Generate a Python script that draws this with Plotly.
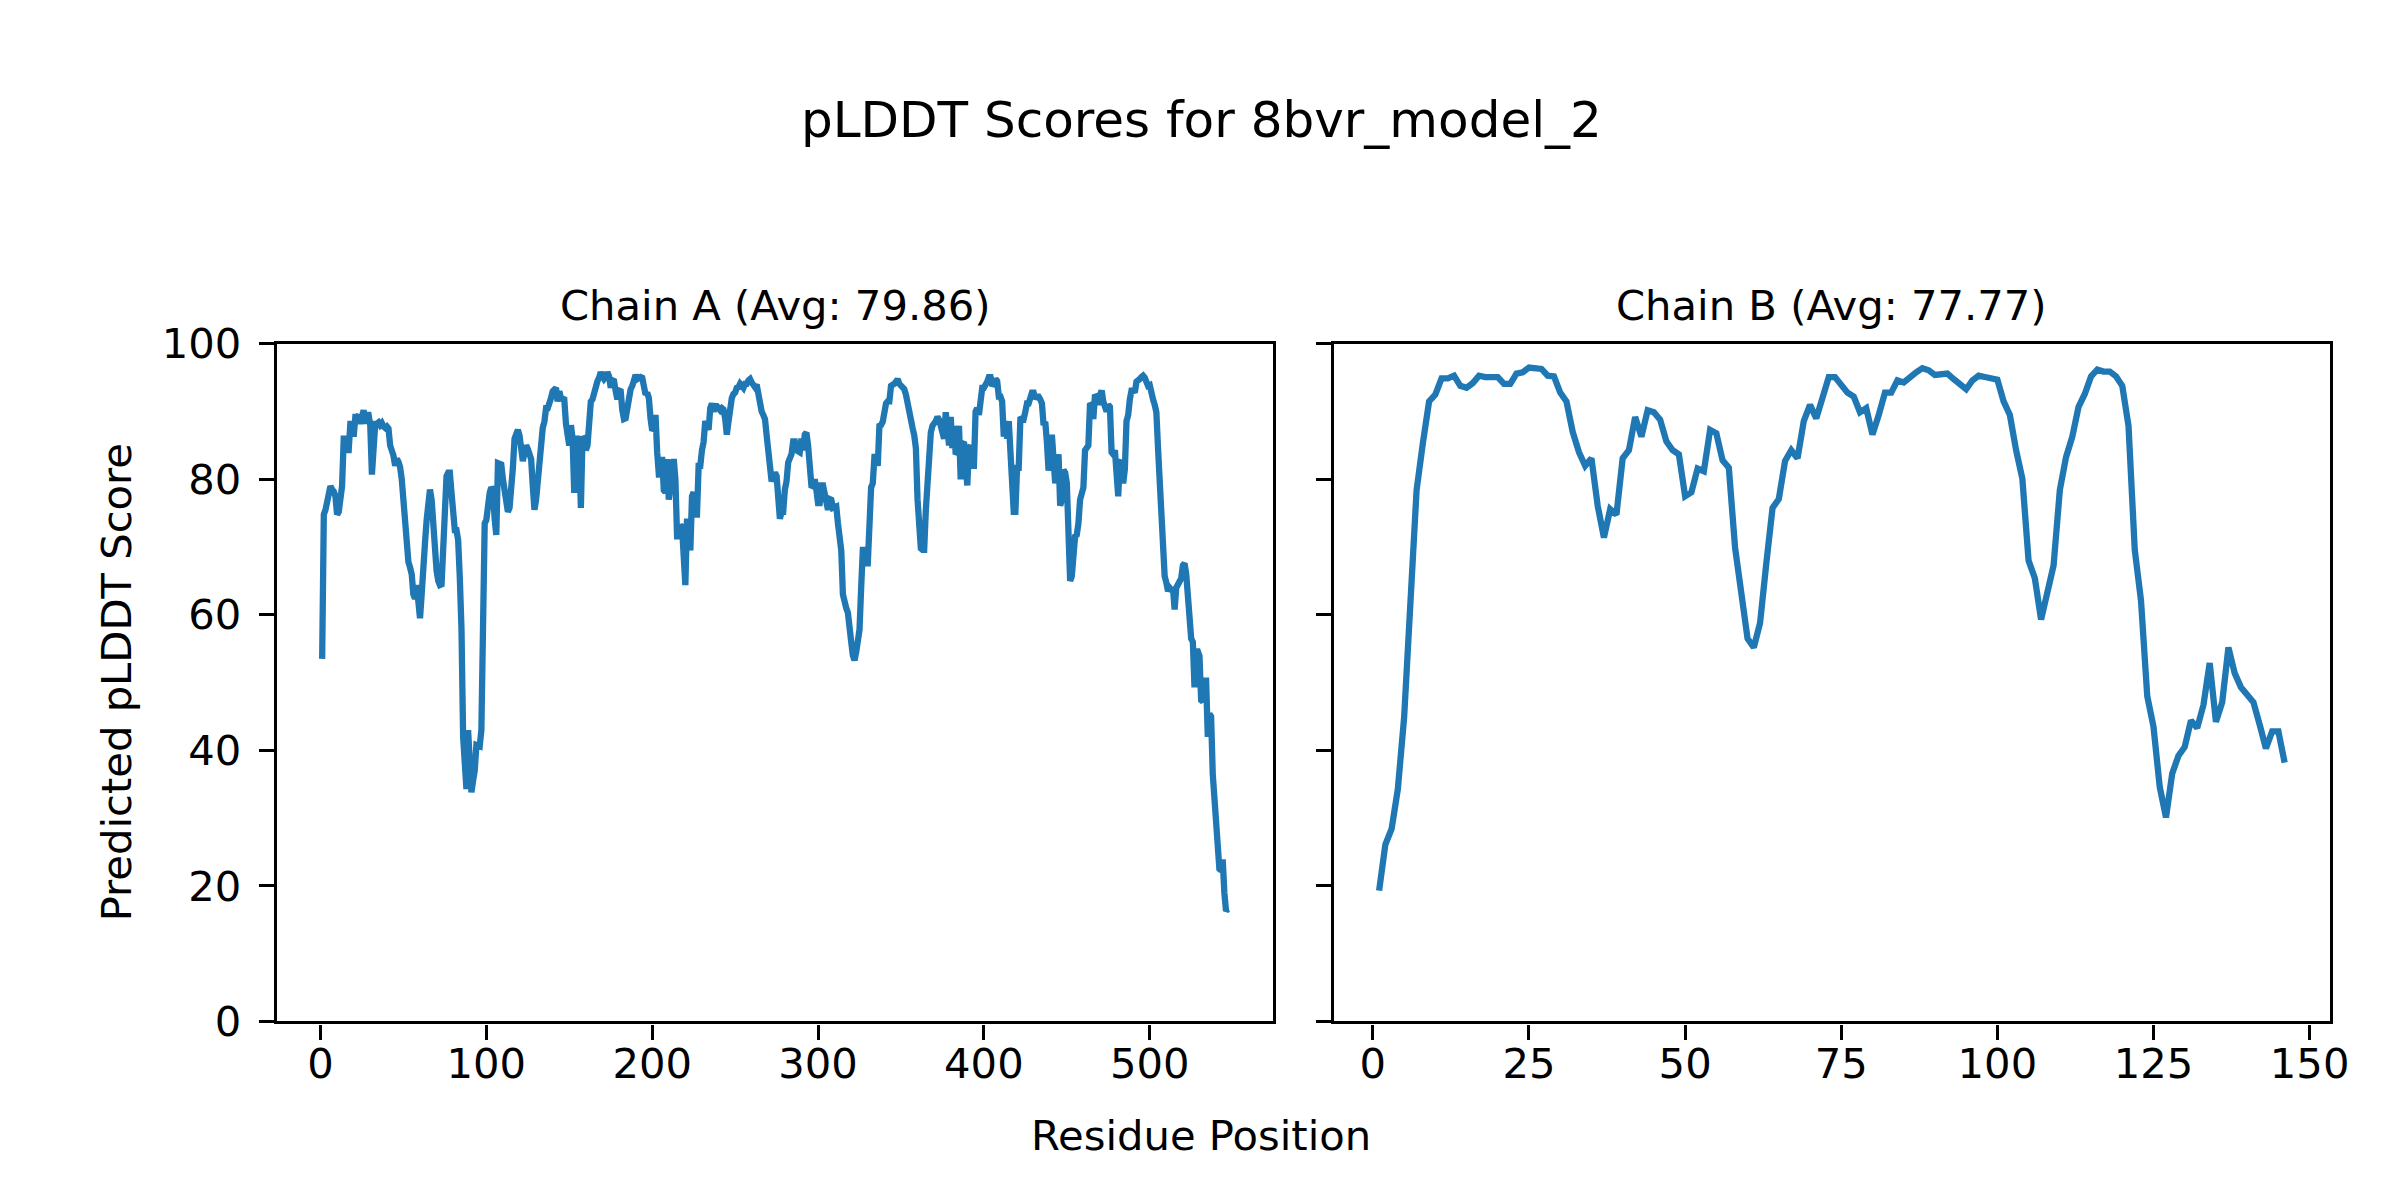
import plotly.graph_objects as go

title_text = "pLDDT Scores for 8bvr_model_2"
chain_titles = ["Chain A (Avg: 79.86)", "Chain B (Avg: 77.77)"]
x_label = "Residue Position"
y_label = "Predicted pLDDT Score"

chain_a_scores = [
    53.5, 74.8, 75.5, 77.0, 78.8, 79.0, 78.5, 78.2, 77.5, 74.8,
    75.2, 76.5, 79.0, 86.0, 86.0, 84.3, 84.3, 88.2, 88.2, 86.3,
    89.2, 89.2, 89.5, 88.2, 89.5, 90.2, 88.2, 89.5, 89.5, 88.0,
    80.7, 84.6, 88.2, 88.2, 88.4, 88.0, 88.3, 87.8, 87.6, 87.8,
    87.5, 85.0, 84.3, 83.5, 82.0, 83.0, 82.6, 81.8, 80.0, 77.0,
    72.0, 70.0, 67.8, 67.0, 66.0, 63.0, 62.4, 64.4, 62.0, 59.5,
    63.0, 70.0, 70.6, 74.0, 78.0, 78.5, 77.0, 73.0, 69.5, 66.5,
    65.0, 64.4, 64.5, 71.0, 79.0, 80.5, 81.0, 81.0, 78.0, 73.0,
    72.5, 72.5, 71.0, 65.5, 58.0, 42.0, 35.0, 34.3, 43.0, 34.5,
    33.8, 35.5, 37.0, 40.8, 40.8, 40.6, 43.0, 56.0, 73.5, 74.0,
    77.5, 78.0, 78.8, 78.5, 74.2, 71.8, 82.4, 82.4, 82.2, 80.0,
    78.0, 75.5, 75.2, 75.8, 81.0, 81.7, 86.0, 87.0, 87.3, 86.5,
    83.5, 82.7, 84.0, 85.0, 84.5, 84.0, 83.0, 79.0, 75.5, 77.0,
    80.0, 83.0, 86.0, 87.6, 88.5, 90.5, 90.5, 91.0, 92.0, 93.0,
    93.2, 93.5, 91.5, 93.0, 92.0, 91.8, 91.8, 88.2, 85.3, 85.0,
    88.0, 86.0, 78.0, 86.0, 86.0, 84.6, 75.8, 86.3, 86.0, 84.3,
    85.0, 90.0, 91.5, 91.8, 93.0, 94.0, 94.5, 95.0, 95.8, 95.2,
    94.8, 95.1, 95.8, 95.2, 93.5, 94.6, 94.5, 93.0, 91.8, 93.1,
    93.0, 90.2, 88.9, 89.0, 90.5, 93.0, 93.3, 93.8, 94.5, 95.4,
    94.8, 95.1, 95.1, 95.0, 93.5, 92.5, 92.8, 92.0, 89.0, 87.2,
    87.5, 89.5, 84.0, 80.7, 80.7, 83.3, 78.4, 78.1, 83.0, 77.0,
    79.0, 82.7, 83.0, 80.0, 71.6, 71.6, 73.2, 73.0, 68.0, 64.4,
    74.2, 72.0, 69.5, 77.5, 78.1, 74.8, 74.8, 82.0, 82.0, 84.3,
    85.5, 88.6, 87.5, 87.3, 90.5, 91.2, 90.0, 90.8, 90.8, 90.5,
    90.2, 90.5, 90.3, 89.0, 86.6, 88.5, 90.8, 92.0, 92.6, 92.8,
    93.5, 93.6, 94.1, 93.8, 93.5, 94.1, 94.1, 94.6, 94.8, 94.3,
    93.8, 93.6, 94.0, 92.5, 90.8, 90.0, 89.5, 88.9, 86.5, 83.3,
    80.7, 79.7, 80.3, 81.0, 80.5, 77.0, 74.2, 75.2, 75.2, 78.5,
    79.7, 82.5, 83.3, 83.7, 85.6, 85.6, 84.3, 84.0, 84.0, 86.0,
    84.3, 86.6, 86.9, 85.0, 82.7, 79.1, 79.0, 80.0, 78.4, 76.5,
    76.5, 79.1, 79.1, 77.8, 77.7, 75.5, 77.1, 77.0, 75.8, 76.0,
    76.0, 73.5, 71.5, 69.5, 63.0, 61.3, 61.0, 60.3, 57.0, 56.0,
    54.0, 53.3, 54.5, 57.0, 57.8, 64.0, 69.6, 69.6, 67.6, 67.6,
    74.2, 78.8, 79.4, 83.3, 83.3, 82.0, 87.9, 88.0, 88.5, 90.8,
    91.2, 91.5, 91.5, 93.8, 93.9, 94.1, 94.4, 94.8, 94.1, 93.8,
    93.5, 93.3, 92.5, 91.5, 90.2, 88.9, 87.6, 86.5, 84.6, 77.0,
    72.0, 69.8, 69.6, 69.6, 75.5, 80.7, 84.6, 86.9, 87.9, 88.2,
    88.6, 89.2, 88.8, 87.9, 86.6, 86.0, 89.9, 86.0, 85.0, 89.2,
    84.6, 87.9, 83.7, 84.0, 87.9, 80.0, 85.3, 85.5, 80.4, 79.1,
    84.6, 85.0, 82.0, 82.0, 90.0, 90.5, 89.5, 93.1, 93.5, 93.5,
    93.8, 94.4, 95.1, 95.1, 93.8, 94.1, 94.8, 94.5, 92.2, 92.2,
    91.5, 86.3, 88.6, 86.0, 88.6, 84.6, 78.8, 75.2, 75.2, 81.7,
    81.7, 88.9, 89.0, 88.9, 90.0, 91.2, 91.2, 92.3, 92.8, 92.8,
    91.9, 92.2, 92.2, 91.8, 91.2, 88.0, 88.5, 85.5, 81.3, 83.0,
    86.6, 83.0, 79.4, 82.0, 83.7, 76.1, 77.0, 81.4, 81.0, 79.5,
    67.0, 65.0, 65.7, 70.5, 71.6, 71.8, 73.5, 77.0, 77.6, 78.8,
    84.3, 85.0, 85.0, 91.2, 91.0, 88.9, 92.5, 92.2, 91.0, 92.5,
    93.1, 91.5, 90.7, 90.0, 91.0, 90.7, 84.0, 83.7, 84.3, 78.0,
    77.5, 82.5, 82.7, 79.4, 81.5, 88.6, 89.5, 91.8, 93.1, 93.1,
    92.8, 94.4, 94.8, 94.8, 95.1, 95.3, 95.0, 94.3, 93.8, 93.9,
    93.2, 91.8, 91.0, 89.9, 84.6, 80.0, 73.5, 69.0, 65.7, 64.8,
    63.5, 64.0, 63.7, 64.0, 60.8, 64.0, 64.4, 64.8, 65.4, 67.3,
    67.6, 66.0, 62.4, 57.8, 56.5, 56.0, 49.3, 54.6, 54.6, 53.9,
    47.4, 47.2, 50.3, 50.3, 42.0, 45.4, 45.0, 36.5, 33.0, 30.4,
    24.5, 22.5, 22.3, 23.9, 19.0, 16.3, 16.6,
]

chain_b_scores = [
    19.3, 26.1, 28.4, 34.3, 44.8, 59.8, 78.4, 85.3, 91.5, 92.5,
    94.9, 94.9, 95.3, 93.8, 93.5, 94.2, 95.3, 95.1, 95.0, 95.1,
    94.1, 94.1, 95.6, 95.8, 96.5, 96.3, 96.3, 95.3, 95.2, 92.8,
    91.5, 87.0, 84.0, 82.0, 83.1, 76.1, 71.4, 75.6, 74.8, 83.1,
    84.3, 89.2, 86.3, 90.2, 89.9, 88.8, 85.6, 84.3, 83.7, 77.5,
    78.1, 81.6, 81.2, 87.3, 86.8, 82.8, 81.7, 69.9, 63.1, 56.5,
    55.2, 58.8, 67.6, 75.8, 77.1, 82.7, 84.3, 83.1, 88.6, 91.0,
    89.0, 91.8, 95.1, 95.1, 94.1, 92.8, 92.2, 89.9, 90.5, 86.6,
    89.5, 92.8, 92.8, 94.6, 94.3, 95.2, 95.8, 96.4, 96.1, 95.4,
    95.6, 95.6, 94.8, 94.1, 93.3, 94.6, 95.3, 95.1, 94.8, 94.7,
    91.5, 89.5, 84.3, 80.1, 68.0, 65.4, 59.3, 63.4, 67.3, 78.4,
    83.3, 86.3, 90.7, 92.6, 95.2, 96.2, 95.9, 95.9, 95.2, 93.8,
    87.9, 69.6, 62.1, 48.0, 43.5, 34.6, 30.1, 36.6, 39.2, 40.5,
    44.4, 43.3, 46.7, 52.9, 44.2, 47.1, 55.2, 51.4, 49.3, 48.2,
    47.1, 43.8, 40.3, 42.8, 42.8, 38.2,
]

chain_a_pos = list(range(1, len(chain_a_scores) + 1))
chain_b_pos = list(range(1, len(chain_b_scores) + 1))

y_ticks = [0, 20, 40, 60, 80, 100]
x_ticks_a = [0, 100, 200, 300, 400, 500]
x_ticks_b = [0, 25, 50, 75, 100, 125, 150]

LINE_COLOR = "#1f77b4"
FONT = "DejaVu Sans"
W, H = 2400, 1200

# calibration of target pixel positions to paper coordinates
CX_A, CX_B = 0.994, 4.6
CY_A, CY_B = 0.964, 27.6

def px_x(px):
    return ((px - CX_B) / CX_A) / W

def px_y(py):
    return 1 - ((py - CY_B) / CY_A) / H

fig = go.Figure()
fig.add_trace(go.Scatter(x=chain_a_pos, y=chain_a_scores, mode="lines",
                         line=dict(color=LINE_COLOR, width=6.3),
                         xaxis="x", yaxis="y", showlegend=False))
fig.add_trace(go.Scatter(x=chain_b_pos, y=chain_b_scores, mode="lines",
                         line=dict(color=LINE_COLOR, width=6.3),
                         xaxis="x2", yaxis="y2", showlegend=False))

def pad_range(n, frac=0.05):
    span = n - 1
    return [1 - span * frac, n + span * frac]

axis_common = dict(showline=True, linecolor="black", linewidth=3.3, mirror=True,
                   ticks="outside", ticklen=15, tickwidth=3.3, tickcolor="black",
                   showgrid=False, zeroline=False,
                   tickfont=dict(family=FONT, size=41.7, color="black"))

xa_dom = [px_x(274), px_x(1272)]
xb_dom = [px_x(1333), px_x(2331)]
y_dom = [px_y(1022), px_y(341)]

fig.update_layout(
    width=W, height=H,
    margin=dict(l=0, r=0, t=0, b=0),
    paper_bgcolor="white", plot_bgcolor="white",
    xaxis=dict(domain=xa_dom, range=pad_range(len(chain_a_scores)), tickvals=x_ticks_a,
               anchor="y", ticklabelstandoff=-12, **axis_common),
    yaxis=dict(domain=y_dom, range=[0, 100], tickvals=y_ticks, anchor="x",
               ticklabelstandoff=9, **axis_common),
    xaxis2=dict(domain=xb_dom, range=pad_range(len(chain_b_scores)), tickvals=x_ticks_b,
                anchor="y2", ticklabelstandoff=-12, **axis_common),
    yaxis2=dict(domain=y_dom, range=[0, 100], tickvals=y_ticks, anchor="x2",
                showticklabels=False, **axis_common),
)

ann_font = dict(family=FONT, color="black")
annotations = [
    dict(text=title_text, x=px_x(1200), y=px_y(116), xref="paper", yref="paper",
         xanchor="center", yanchor="middle", showarrow=False,
         font=dict(size=50, **ann_font)),
    dict(text=chain_titles[0], x=px_x(773), y=px_y(302), xref="paper", yref="paper",
         xanchor="center", yanchor="middle", showarrow=False,
         font=dict(size=41.7, **ann_font)),
    dict(text=chain_titles[1], x=px_x(1832), y=px_y(302), xref="paper", yref="paper",
         xanchor="center", yanchor="middle", showarrow=False,
         font=dict(size=41.7, **ann_font)),
    dict(text=x_label, x=px_x(1200), y=px_y(1137), xref="paper", yref="paper",
         xanchor="center", yanchor="middle", showarrow=False,
         font=dict(size=41.7, **ann_font)),
    dict(text=y_label, x=px_x(113), y=px_y(681), xref="paper", yref="paper",
         xanchor="center", yanchor="middle", showarrow=False, textangle=-90,
         font=dict(size=41.7, **ann_font)),
]
fig.update_layout(annotations=annotations)

fig.write_html("out.html")
